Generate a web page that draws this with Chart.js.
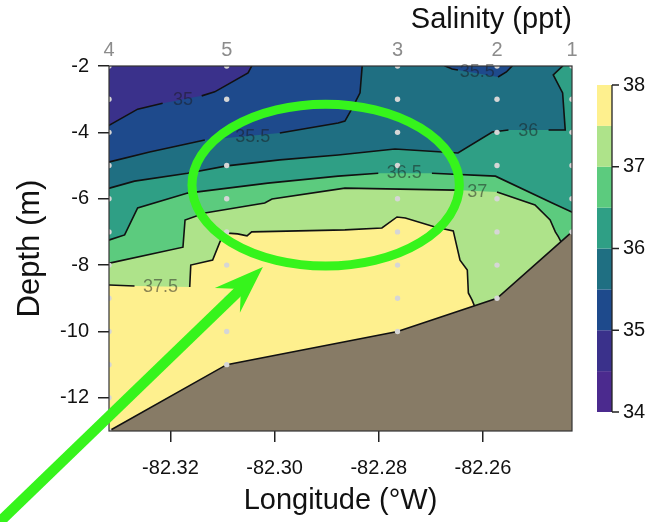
<!DOCTYPE html>
<html>
<head>
<meta charset="utf-8">
<script src="https://cdn.jsdelivr.net/npm/chart.js@4.4.1/dist/chart.umd.min.js"></script>
<style>
  html, body { margin: 0; padding: 0; background: #fff; }
</style>
</head>
<body>
<canvas id="salinityChart" width="667" height="522"></canvas>
<script>
// stations along the transect, west -> east
const stationNames = ['4', '5', '3', '2', '1'];
const stationLon = [-82.3318, -82.3092, -82.2764, -82.2573, -82.2429];
const stationBottom = [-13, -11, -10, -9, -7];
const sampleDepths = [-2, -3, -4, -5, -6, -7, -8, -9, -10, -11, -12, -13];

const xTicks = [-82.32, -82.30, -82.28, -82.26];
const yTicks = [-2, -4, -6, -8, -10, -12];
const depthMin = -13;
const depthMax = -2;

// salinity bands (ppt) and colours
const levels = [34, 34.5, 35, 35.5, 36, 36.5, 37, 37.5, 38];
const levelColors = ['#4b2a8e', '#3a318b', '#1e4a8c', '#1f6f82', '#2f9f85', '#5ccb7e', '#aee38a', '#fef08e'];
const colorbarTicks = [34, 35, 36, 37, 38];

// contour lines [lon, depth], split where the label sits
const contour35 = [
  [[-82.3336, -3.95], [-82.3263, -3.30], [-82.3215, -3.12]],
  [[-82.3140, -2.90], [-82.3115, -2.78], [-82.3051, -2.21], [-82.3044, -2.00], [-82.3042, -1.80]]
];
const contour355 = [
  [[-82.3336, -4.95], [-82.3317, -4.89], [-82.3240, -4.59], [-82.3134, -4.23]],
  [[-82.2990, -4.02], [-82.2878, -3.72], [-82.2865, -3.66], [-82.2851, -3.27], [-82.2836, -2.81], [-82.2832, -2.03], [-82.2832, -1.80]]
];
const patch355 = [
  [[-82.2675, -1.85], [-82.2673, -2.00], [-82.2659, -2.09], [-82.2648, -2.12]],
  [[-82.2571, -2.33], [-82.2555, -2.18], [-82.2544, -2.00], [-82.2540, -1.85]]
];
const contour36 = [
  [[-82.3336, -5.74], [-82.3317, -5.68], [-82.3269, -5.47], [-82.3167, -5.23], [-82.3092, -5.01], [-82.2990, -4.83], [-82.2878, -4.68], [-82.2769, -4.50], [-82.2648, -4.62], [-82.2582, -3.99], [-82.2551, -3.93]],
  [[-82.2474, -3.93], [-82.2442, -3.93], [-82.2447, -2.81], [-82.2465, -2.27], [-82.2447, -2.00], [-82.2442, -1.76]]
];
const contour365 = [
  [[-82.3336, -7.30], [-82.3317, -7.24], [-82.3288, -7.09], [-82.3263, -6.28], [-82.3167, -5.83], [-82.3013, -5.53], [-82.2878, -5.32], [-82.2801, -5.23]],
  [[-82.2698, -5.23], [-82.2576, -5.32], [-82.2467, -6.13], [-82.2413, -6.52]]
];
const contour37 = [
  [[-82.3336, -8.00], [-82.3317, -7.94], [-82.3176, -7.46], [-82.3172, -6.64], [-82.3134, -6.43], [-82.3019, -6.13], [-82.3005, -6.01], [-82.2865, -5.68], [-82.2653, -5.74]],
  [[-82.2573, -5.80], [-82.2500, -6.19], [-82.2471, -6.64], [-82.2461, -7.00], [-82.2455, -7.15], [-82.2440, -7.61]]
];
const contour375 = [
  [[-82.3336, -8.60], [-82.3317, -8.60], [-82.3269, -8.63]],
  [[-82.3163, -8.66], [-82.3161, -8.00], [-82.3119, -7.85], [-82.3105, -7.30], [-82.3096, -7.03], [-82.3071, -7.06], [-82.3053, -7.12], [-82.3044, -7.00], [-82.2865, -6.94], [-82.2794, -6.88], [-82.2765, -6.55], [-82.2749, -6.58], [-82.2692, -6.85], [-82.2657, -6.97], [-82.2644, -7.85], [-82.2630, -8.15], [-82.2628, -8.84], [-82.2621, -9.05], [-82.2609, -9.51]]
];

const labelText = ['35', '35.5', '35.5', '36', '36.5', '37', '37.5'];
const labelLon = [-82.3176, -82.3042, -82.2611, -82.2513, -82.2751, -82.2611, -82.3219];
const labelDepth = [-3.03, -4.14, -2.18, -3.96, -5.23, -5.80, -8.66];

// highlight ellipse + arrow (lon, depth)
const ellipseCenter = [-82.2902, -5.59];
const ellipseRadius = [0.02567, 2.44];
const arrowTail = [-82.3528, -15.74];
const arrowHead = [[-82.30225, -8.06], [-82.31148, -8.69], [-82.30648, -8.72], [-82.30667, -9.44]];

const xL = stationLon[0] - 0.01;
const xR = stationLon[stationLon.length - 1] + 0.01;
const yB = depthMin - 3;
const yT = depthMax + 3;

const toPts = arr => arr.map(p => ({x: p[0], y: p[1]}));

// region on the salty side (below) of a contour
function regionBelow(segs) {
    const pts = segs.flat();
    const first = pts[0], last = pts[pts.length - 1];
    return toPts(pts.concat([[xR, last[1]], [xR, yB], [xL, yB], [xL, first[1]]]));
}

function fillSet(data, color) {
    return { type: 'line', data: data, fill: 'shape', backgroundColor: color,
             borderColor: 'rgba(0,0,0,0)', borderWidth: 0, pointRadius: 0, tension: 0 };
}
function lineSet(data, width) {
    return { type: 'line', data: data, fill: false, borderColor: '#111', borderWidth: width || 1.6,
             pointRadius: 0, tension: 0 };
}

const contours = [
    {level: 35, segs: contour35},
    {level: 35.5, segs: contour355},
    {level: 36, segs: contour36},
    {level: 36.5, segs: contour365},
    {level: 37, segs: contour37},
    {level: 37.5, segs: contour375}
];

const bottomLine = stationLon.map((lon, i) => [lon, stationBottom[i]]);
const dots = stationLon.flatMap((lon, i) =>
    sampleDepths.filter(d => d >= stationBottom[i]).map(d => ({x: lon, y: d})));

// datasets listed bottom layer first
const layers = [];
layers.push(fillSet(toPts([[xL, yT], [xR, yT], [xR, yB], [xL, yB]]), levelColors[1]));
contours.forEach(c => {
    layers.push(fillSet(regionBelow(c.segs), levelColors[levels.indexOf(c.level)]));
    if (c.level === 35.5) {
        layers.push(fillSet(toPts(patch355.flat()), levelColors[2]));
    }
});
contours.forEach(c => c.segs.forEach(s => layers.push(lineSet(toPts(s)))));
patch355.forEach(s => layers.push(lineSet(toPts(s))));
layers.push(fillSet(toPts(bottomLine.concat([[xR, stationBottom[stationBottom.length - 1]], [xR, yB], [xL, yB], [xL, stationBottom[0]]])), '#877b66'));
layers.push(lineSet(toPts(bottomLine), 1.6));
layers.push({ type: 'scatter', data: dots, pointRadius: 2.7, pointBackgroundColor: '#d6d6d6',
              pointBorderWidth: 0, showLine: false });

const overlay = {
    id: 'overlay',
    afterDatasetsDraw(chart) {
        const {ctx, chartArea: a, scales: {x, y}} = chart;
        ctx.save();
        ctx.font = '18px "Liberation Sans", Arial, sans-serif';
        ctx.fillStyle = 'rgba(25, 25, 25, 0.5)';
        ctx.textAlign = 'center';
        ctx.textBaseline = 'middle';
        labelText.forEach((t, i) => {
            ctx.fillText(t, x.getPixelForValue(labelLon[i]), y.getPixelForValue(labelDepth[i]));
        });
        ctx.strokeStyle = '#333';
        ctx.lineWidth = 1.2;
        ctx.strokeRect(a.left, a.top, a.right - a.left, a.bottom - a.top);
        ctx.restore();
    },
    afterDraw(chart) {
        const {ctx, chartArea: a, scales: {x, y}} = chart;
        ctx.save();
        // colour key
        const top = a.top + 19, bottom = a.bottom - 19, left = a.right + 25, w = 15;
        const lo = levels[0], hi = levels[levels.length - 1];
        const py = v => bottom - (v - lo) / (hi - lo) * (bottom - top);
        for (let i = 0; i < levelColors.length; i++) {
            ctx.fillStyle = levelColors[i];
            ctx.fillRect(left, py(levels[i + 1]), w, py(levels[i]) - py(levels[i + 1]));
        }
        ctx.strokeStyle = '#222';
        ctx.lineWidth = 1.3;
        ctx.beginPath();
        ctx.moveTo(left + w, top);
        ctx.lineTo(left + w, bottom);
        colorbarTicks.forEach(v => {
            ctx.moveTo(left + w, py(v));
            ctx.lineTo(left + w + 7, py(v));
        });
        ctx.stroke();
        ctx.fillStyle = '#111';
        ctx.font = '20px "Liberation Sans", Arial, sans-serif';
        ctx.textAlign = 'left';
        ctx.textBaseline = 'middle';
        colorbarTicks.forEach(v => ctx.fillText(String(v), left + w + 11, py(v)));

        // green highlight
        const green = '#36f41c';
        const cx = x.getPixelForValue(ellipseCenter[0]);
        const cy = y.getPixelForValue(ellipseCenter[1]);
        const rx = x.getPixelForValue(ellipseCenter[0] + ellipseRadius[0]) - cx;
        const ry = y.getPixelForValue(ellipseCenter[1] - ellipseRadius[1]) - cy;
        ctx.strokeStyle = green;
        ctx.lineWidth = 9;
        ctx.beginPath();
        ctx.ellipse(cx, cy, rx, ry, 0, 0, Math.PI * 2);
        ctx.stroke();
        const hp = arrowHead.map(p => [x.getPixelForValue(p[0]), y.getPixelForValue(p[1])]);
        ctx.lineWidth = 10.5;
        ctx.beginPath();
        ctx.moveTo(x.getPixelForValue(arrowTail[0]), y.getPixelForValue(arrowTail[1]));
        ctx.lineTo(hp[2][0], hp[2][1]);
        ctx.stroke();
        ctx.fillStyle = green;
        ctx.beginPath();
        ctx.moveTo(hp[0][0], hp[0][1]);
        ctx.lineTo(hp[1][0], hp[1][1]);
        ctx.lineTo(hp[2][0], hp[2][1]);
        ctx.lineTo(hp[3][0], hp[3][1]);
        ctx.closePath();
        ctx.fill();
        ctx.restore();
    }
};

Chart.defaults.font.family = '"Liberation Sans", Arial, sans-serif';

new Chart(document.getElementById('salinityChart'), {
    type: 'line',
    data: { datasets: layers.reverse() },
    options: {
        responsive: false,
        animation: false,
        events: [],
        layout: { padding: { left: 0, right: 95, top: 0, bottom: 0 } },
        plugins: { legend: { display: false }, tooltip: { enabled: false } },
        scales: {
            x: {
                type: 'linear',
                position: 'bottom',
                min: stationLon[0],
                max: stationLon[stationLon.length - 1],
                afterBuildTicks: s => { s.ticks = xTicks.map(v => ({value: v})); },
                afterFit: s => { s.height = 91; s.paddingLeft = 0; s.paddingRight = 0; },
                ticks: { callback: v => v.toFixed(2), font: {size: 20}, color: '#111', padding: 14,
                         autoSkip: false, maxRotation: 0 },
                grid: { drawOnChartArea: false, tickLength: 11, color: '#222', lineWidth: 1.5 },
                border: { display: false },
                title: { display: true, text: 'Longitude (°W)', font: {size: 29}, color: '#111',
                         padding: {top: 0, bottom: 4} }
            },
            x2: {
                type: 'linear',
                position: 'top',
                min: stationLon[0],
                max: stationLon[stationLon.length - 1],
                afterBuildTicks: s => { s.ticks = stationLon.map(v => ({value: v})); },
                afterFit: s => { s.height = 66; s.paddingLeft = 0; s.paddingRight = 0; },
                ticks: { callback: (v, i) => stationNames[i], font: {size: 20}, color: '#8c8c8c', padding: 4,
                         autoSkip: false, maxRotation: 0 },
                grid: { display: false, drawTicks: false },
                border: { display: false },
                title: { display: true, text: 'Salinity (ppt)', align: 'end', font: {size: 29}, color: '#111',
                         padding: {top: 3, bottom: 0} }
            },
            y: {
                type: 'linear',
                min: depthMin,
                max: depthMax,
                afterBuildTicks: s => { s.ticks = yTicks.map(v => ({value: v})); },
                afterFit: s => { s.width = 109; },
                ticks: { font: {size: 20}, color: '#111', padding: 9 },
                grid: { drawOnChartArea: false, tickLength: 11, color: '#222', lineWidth: 1.5 },
                border: { display: false },
                title: { display: true, text: 'Depth (m)', font: {size: 31}, color: '#111',
                         padding: {top: 12, bottom: 0} }
            }
        }
    },
    plugins: [overlay]
});
</script>
</body>
</html>
